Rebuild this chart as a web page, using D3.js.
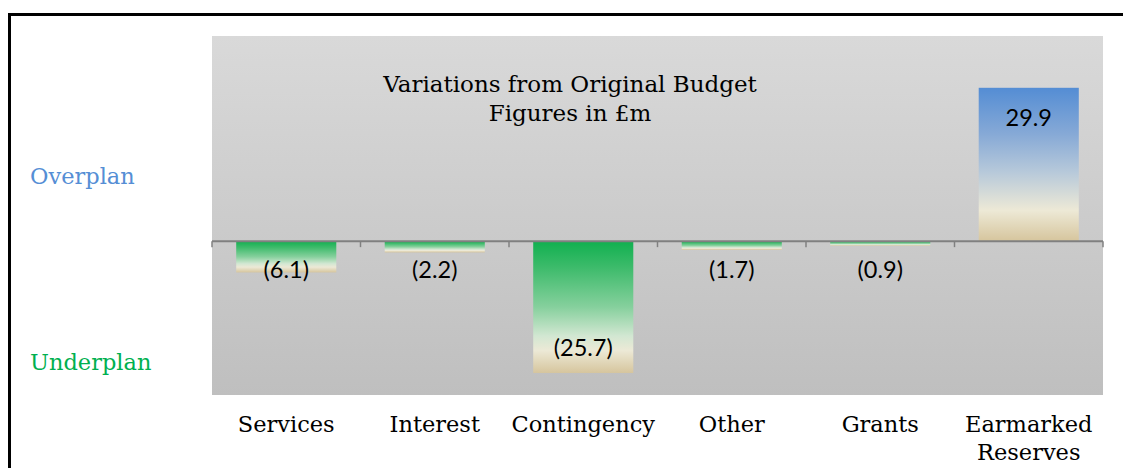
<!DOCTYPE html>
<html>
<head>
<meta charset="utf-8">
<script src="https://cdn.jsdelivr.net/npm/d3@7"></script>
<style>
  body { margin: 0; background: #fff; }
  svg { display: block; }
</style>
</head>
<body>
<svg id="chart" width="1123" height="468"></svg>
<script>
// chart data
const categories = ["Services", "Interest", "Contingency", "Other", "Grants", "Earmarked Reserves"];
const values = [-6.1, -2.2, -25.7, -1.7, -0.9, 29.9];
const labels = ["(6.1)", "(2.2)", "(25.7)", "(1.7)", "(0.9)", "29.9"];
const titleLines = ["Variations from Original Budget", "Figures in £m"];

const svg = d3.select("#chart");
const W = 1123, H = 468;
const plot = { left: 212, right: 1103, top: 36, bottom: 395 };

const defs = svg.append("defs");

// plot background gradient
const bg = defs.append("linearGradient").attr("id", "bgGrad")
  .attr("x1", 0).attr("y1", 0).attr("x2", 0).attr("y2", 1);
bg.append("stop").attr("offset", "0%").attr("stop-color", "#d9d9d9");
bg.append("stop").attr("offset", "100%").attr("stop-color", "#bfbfbf");

// negative bars: green to beige
const neg = defs.append("linearGradient").attr("id", "negGrad")
  .attr("x1", 0).attr("y1", 0).attr("x2", 0).attr("y2", 1);
[["0%", "#10b04f"], ["20%", "#3dbb6b"], ["50%", "#86d09d"], ["72%", "#d2e7d2"], ["83%", "#ece9d6"], ["100%", "#d6c59d"]]
  .forEach(s => neg.append("stop").attr("offset", s[0]).attr("stop-color", s[1]));

// positive bar: blue to beige
const pos = defs.append("linearGradient").attr("id", "posGrad")
  .attr("x1", 0).attr("y1", 0).attr("x2", 0).attr("y2", 1);
[["0%", "#548dd4"], ["30%", "#86a9d6"], ["55%", "#b7c9da"], ["80%", "#ede9d6"], ["100%", "#d6c59d"]]
  .forEach(s => pos.append("stop").attr("offset", s[0]).attr("stop-color", s[1]));

// outer border (top and left only)
svg.append("line").attr("x1", 8).attr("x2", W).attr("y1", 14.5).attr("y2", 14.5)
  .attr("stroke", "#000").attr("stroke-width", 3);
svg.append("line").attr("x1", 9.5).attr("x2", 9.5).attr("y1", 13).attr("y2", H)
  .attr("stroke", "#000").attr("stroke-width", 3);

svg.append("rect")
  .attr("x", plot.left).attr("y", plot.top)
  .attr("width", plot.right - plot.left).attr("height", plot.bottom - plot.top)
  .attr("fill", "url(#bgGrad)");

const x = d3.scaleBand()
  .domain(categories)
  .range([plot.left, plot.right])
  .paddingInner(0.326).paddingOuter(0.163);

const y = d3.scaleLinear()
  .domain([-30, 40])
  .range([plot.bottom, plot.top]);

const y0 = y(0);
const step = x.step();

// bars
svg.selectAll("rect.bar")
  .data(categories)
  .join("rect")
  .attr("class", "bar")
  .attr("x", d => x(d))
  .attr("width", x.bandwidth())
  .attr("y", (d, i) => Math.min(y(values[i]), y0))
  .attr("height", (d, i) => Math.abs(y(values[i]) - y0))
  .attr("fill", (d, i) => values[i] < 0 ? "url(#negGrad)" : "url(#posGrad)");

// zero axis with ticks at band boundaries
svg.append("line")
  .attr("x1", plot.left).attr("x2", plot.right)
  .attr("y1", y0).attr("y2", y0)
  .attr("stroke", "#808080").attr("stroke-width", 2);
const tickXs = d3.range(categories.length + 1).map(i => plot.left + i * step);
svg.selectAll("line.tick")
  .data(tickXs)
  .join("line")
  .attr("class", "tick")
  .attr("x1", d => d).attr("x2", d => d)
  .attr("y1", y0).attr("y2", y0 + 6)
  .attr("stroke", "#808080").attr("stroke-width", 1.5);

// value labels (inside end, pushed out of small bars)
svg.selectAll("text.val")
  .data(categories)
  .join("text")
  .attr("class", "val")
  .attr("x", d => x(d) + x.bandwidth() / 2)
  .attr("y", (d, i) => {
    const v = values[i];
    if (v >= 0) return Math.min(y(v) + 29, y0 - 27);
    return Math.max(y(v) - 26, y0 + 28);
  })
  .attr("text-anchor", "middle")
  .attr("dominant-baseline", "central")
  .attr("font-family", "Lato, 'Open Sans', sans-serif")
  .attr("font-size", 23.5)
  .attr("fill", "#000")
  .text((d, i) => labels[i]);

// category labels
const serif = "'DejaVu Serif', serif";
categories.forEach(c => {
  const words = c === "Earmarked Reserves" ? ["Earmarked", "Reserves"] : [c];
  const t = svg.append("text")
    .attr("x", x(c) + x.bandwidth() / 2)
    .attr("y", 432)
    .attr("text-anchor", "middle")
    .attr("font-family", serif)
    .attr("font-size", 22.5)
    .attr("fill", "#000");
  words.forEach((w, j) => {
    t.append("tspan").attr("x", x(c) + x.bandwidth() / 2).attr("dy", j ? 28 : 0).text(w);
  });
});

// title
const title = svg.append("text")
  .attr("text-anchor", "middle")
  .attr("font-family", serif)
  .attr("font-size", 23)
  .attr("fill", "#000");
titleLines.forEach((l, j) => {
  title.append("tspan").attr("x", 570).attr("y", 92 + j * 29).text(l);
});

// side annotations
svg.append("text").attr("x", 30).attr("y", 184)
  .attr("font-family", serif).attr("font-size", 22.5)
  .attr("fill", "#558ed5").text("Overplan");
svg.append("text").attr("x", 30).attr("y", 370)
  .attr("font-family", serif).attr("font-size", 22.5)
  .attr("fill", "#00b050").text("Underplan");
</script>
</body>
</html>
